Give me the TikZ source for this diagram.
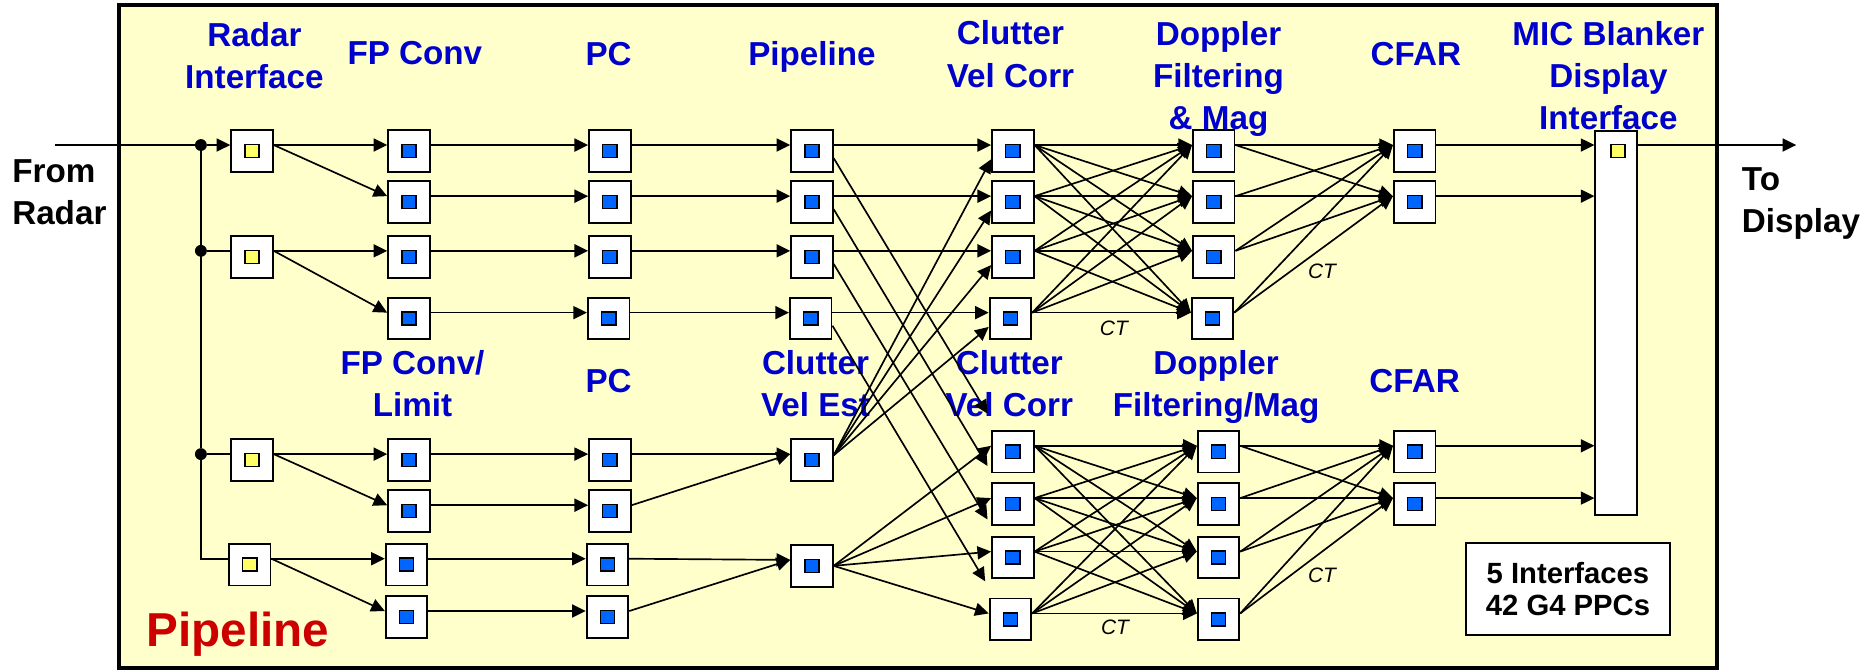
\documentclass[tikz,border=0pt]{standalone}
\usepackage{fontspec}
\setmainfont{Liberation Sans}
\usetikzlibrary{arrows.meta,calc}
\definecolor{bgy}{HTML}{FFFFCC}
\definecolor{tblue}{HTML}{0000CC}
\definecolor{tred}{HTML}{CC0000}
\definecolor{pblue}{HTML}{0066FF}
\definecolor{pyel}{HTML}{FFFF66}
\begin{document}
\begin{tikzpicture}[x=0.02cm,y=-0.02cm,
  box/.style={draw=black,line width=0.9pt,fill=white,minimum width=0.7cm,minimum height=0.7cm,inner sep=0pt,
    path picture={\draw[line width=0.7pt,fill=#1] ([shift={(-0.12cm,-0.11cm)}]path picture bounding box.center) rectangle ++(0.24cm,0.22cm);}},
  box/.default=pblue,
  port/.style={draw=black,line width=0.7pt,fill=pyel,minimum width=0.24cm,minimum height=0.22cm,inner sep=0pt},
  conn/.style={line width=0.8pt},
  arr/.style={conn,-{Triangle[length=0.23cm,width=0.22cm]}},
  hi/.style={shift={(0,-5)}},
  dot/.style={circle,fill=black,minimum size=0.2cm,inner sep=0pt},
  lab/.style={font=\fontsize{15.9}{20.2}\selectfont\bfseries,text=tblue,align=center,inner sep=0pt},
  blk/.style={font=\fontsize{15.9}{20.2}\selectfont\bfseries,text=black,align=left,inner sep=0pt},
  ct/.style={font=\fontsize{10}{12}\selectfont\itshape,inner sep=0pt}]
\useasboundingbox (0,0) rectangle (1568,564);
% frame
\draw[line width=1.9pt,fill=bgy] (100,4) rectangle (1444,562);
% outside texts
\node[blk,anchor=west] (from) at (10,162) {From\\Radar};
\node[blk,anchor=west] (to) at (1465,171) {To\\Display};
% stage labels, upper
\node[lab] (lrad) at (214,46.6) {Radar\\Interface};
\node[lab,anchor=base] (lfp) at (349,54) {FP Conv};
\node[lab,anchor=base] (lpc) at (512,55) {PC};
\node[lab,anchor=base] (lpl) at (683,55) {Pipeline};
\node[lab] (lcu) at (850,45.6) {Clutter\\Vel Corr};
\node[lab] (ldu) at (1025,66.4) {Doppler\\Filtering\\\& Mag};
\node[lab,anchor=base] (lcf) at (1191,55) {CFAR};
\node[lab] (lmic) at (1353,63.4) {MIC Blanker\\Display\\Interface};
% stage labels, lower
\node[lab] (llf) at (347,322.6) {FP Conv/\\Limit};
\node[lab,anchor=base] (llp) at (512,330) {PC};
\node[lab] (lve) at (686,322.6) {Clutter\\Vel Est};
\node[lab] (lcl) at (849,322.6) {Clutter\\Vel Corr};
\node[lab] (ldl) at (1023,325.6) {Doppler\\Filtering/Mag};
\node[lab,anchor=base] (lcfl) at (1190,330) {CFAR};
\node[font=\fontsize{22.8}{26}\selectfont\bfseries,text=tred,inner sep=0pt,anchor=base west] (pipe) at (123,544) {Pipeline};
\node[draw=black,line width=0.8pt,fill=white,minimum width=3.44cm,minimum height=1.54cm,align=center,
  font=\fontsize{14}{15.4}\selectfont\bfseries] (info) at (1319,495.5) {5 Interfaces\\42 G4 PPCs};
% boxes upper
\node[box=pyel] (r1) at (212,127) {};
\node[box=pyel] (r2) at (212,216) {};
\node[box] (f1) at (344,127) {};
\node[box] (f2) at (344,170) {};
\node[box] (f3) at (344,216) {};
\node[box] (f4) at (344,268) {};
\node[box] (p1) at (513,127) {};
\node[box] (p2) at (513,170) {};
\node[box] (p3) at (513,216) {};
\node[box] (p4) at (512,268) {};
\node[box] (pl1) at (683,127) {};
\node[box] (pl2) at (683,170) {};
\node[box] (pl3) at (683,216) {};
\node[box] (pl4) at (682,268) {};
\node[box] (cu1) at (852,127) {};
\node[box] (cu2) at (852,170) {};
\node[box] (cu3) at (852,216) {};
\node[box] (cu4) at (850,268) {};
\node[box] (du1) at (1021,127) {};
\node[box] (du2) at (1021,170) {};
\node[box] (du3) at (1021,216) {};
\node[box] (du4) at (1020,268) {};
\node[box] (cf1) at (1190,127) {};
\node[box] (cf2) at (1190,170) {};
% boxes lower
\node[box=pyel] (r3) at (212,387) {};
\node[box=pyel] (r4) at (210,475) {};
\node[box] (lf1) at (344,387) {};
\node[box] (lf2) at (344,430) {};
\node[box] (lf3) at (342,475) {};
\node[box] (lf4) at (342,519) {};
\node[box] (lp1) at (513,387) {};
\node[box] (lp2) at (513,430) {};
\node[box] (lp3) at (511,475) {};
\node[box] (lp4) at (511,519) {};
\node[box] (cve1) at (683,387) {};
\node[box] (cve2) at (683,476) {};
\node[box] (cl1) at (852,380) {};
\node[box] (cl2) at (852,424) {};
\node[box] (cl3) at (852,469) {};
\node[box] (cl4) at (850,521) {};
\node[box] (dl1) at (1025,380) {};
\node[box] (dl2) at (1025,424) {};
\node[box] (dl3) at (1025,469) {};
\node[box] (dl4) at (1025,521) {};
\node[box] (cfl1) at (1190,380) {};
\node[box] (cfl2) at (1190,424) {};
% MIC
\node[draw=black,line width=0.9pt,fill=white,minimum width=0.7cm,minimum height=6.46cm,inner sep=0pt] (mic) at (1359.5,271.5) {};
\node[port] (micport) at (1361,127) {};
% input bus
\coordinate (src) at (46,122);
\coordinate (dst) at (1511,122);
\node[dot] (j1) at (169,122) {};
\node[dot] (j2) at (169,211) {};
\node[dot] (j3) at (169,382) {};
\draw[conn] (src) -- (j1);
\draw[arr] (j1) -- ([hi]r1.west);
\draw[conn] (j2) -- ([hi]r2.west);
\draw[conn] (j3) -- ([hi]r3.west);
\draw[conn] (j1) -- (j3) |- ([hi]r4.west);
% radar interface -> FP conv
\draw[arr] ([hi]r1.east) -- ([hi]f1.west);
\draw[arr] ([hi]r1.east) -- ([hi]f2.west);
\draw[arr] ([hi]r2.east) -- ([hi]f3.west);
\draw[arr] ([hi]r2.east) -- ([hi]f4.west);
\draw[arr] ([hi]r3.east) -- ([hi]lf1.west);
\draw[arr] ([hi]r3.east) -- ([hi]lf2.west);
\draw[arr] ([hi]r4.east) -- ([hi]lf3.west);
\draw[arr] ([hi]r4.east) -- ([hi]lf4.west);
\foreach \i in {1,...,4}{
  \draw[arr] ([hi]f\i.east) -- ([hi]p\i.west);
  \draw[arr] ([hi]p\i.east) -- ([hi]pl\i.west);
  \draw[arr] ([hi]pl\i.east) -- ([hi]cu\i.west);
  \draw[arr] ([shift={(0,6)}]pl\i.east) -- ([shift={(-3,-32)}]cl\i.west);
  \draw[arr] ([shift={(0,-4)}]cve1.east) -- ([shift={(0,7)}]cu\i.west);
  \draw[arr] (cve2.east) -- ([hi]cl\i.west);
  \draw[arr] ([hi]lf\i.east) -- ([hi]lp\i.west);
  \foreach \j in {1,...,4}{
    \draw[arr] ([hi]cu\i.east) -- ([hi]du\j.west);
    \draw[arr] ([hi]cl\i.east) -- ([hi]dl\j.west);
  }
  \foreach \j in {1,2}{
    \draw[arr] ([hi]du\i.east) -- ([hi]cf\j.west);
    \draw[arr] ([hi]dl\i.east) -- ([hi]cfl\j.west);
  }
}
\draw[arr] ([hi]lp1.east) -- ([hi]cve1.west);
\draw[arr] ([hi]lp2.east) -- ([hi]cve1.west);
\draw[arr] ([hi]lp3.east) -- ([hi]cve2.west);
\draw[arr] ([hi]lp4.east) -- ([hi]cve2.west);
% CFAR -> MIC -> display
\foreach \c in {cf1,cf2,cfl1,cfl2}{
  \draw[arr] ([hi]\c.east) -- ([hi]\c.east -| mic.west);
}
\draw[arr] (dst -| mic.east) -- (dst);
% CT labels
\node[ct] (ct1) at (937,276) {CT};
\node[ct] (ct2) at (1112,228) {CT};
\node[ct] (ct3) at (938,528) {CT};
\node[ct] (ct4) at (1112,484) {CT};
\end{tikzpicture}
\end{document}
